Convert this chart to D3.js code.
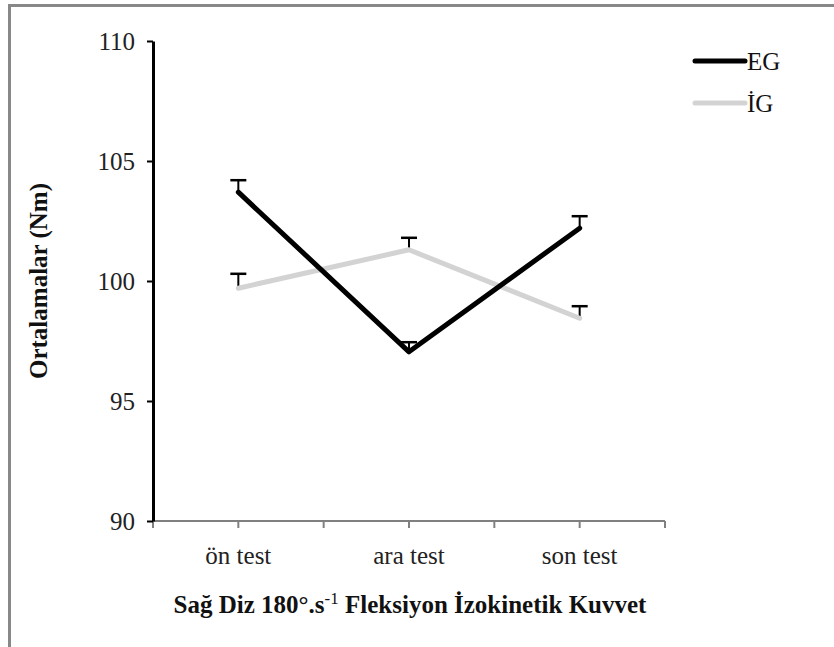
<!DOCTYPE html>
<html><head><meta charset="utf-8">
<script src="https://cdn.jsdelivr.net/npm/d3@7"></script>
<style>body{margin:0;background:#fff;} svg{display:block;}</style>
</head><body>
<svg id="c" width="834" height="647"></svg>
<script>
const categories = ["ön test", "ara test", "son test"];
const egValues = [103.7, 97.05, 102.2];
const egErrTop = [104.2, 97.45, 102.7];
const igValues = [99.7, 101.3, 98.45];
const igErrTop = [100.3, 101.8, 98.95];
const yTicks = [90, 95, 100, 105, 110];
const seriesNames = ["EG", "İG"];

(function () {
const FF = "Liberation Serif";
const FS = 25;
const svg = d3.select("#c");
// frame
svg.append("rect").attr("x", 9.5).attr("y", 5.5).attr("width", 840).attr("height", 660)
  .attr("fill", "none").attr("stroke", "#888").attr("stroke-width", 3);

const mLeft = 153, mRight = 665, mTop = 41, mBottom = 521;
const x = d3.scaleBand().domain(categories).range([mLeft, mRight]);
const y = d3.scaleLinear().domain([90, 110]).range([mBottom, mTop]);
const cx = c => x(c) + x.bandwidth() / 2;

// x axis
const xg = svg.append("g");
xg.append("line").attr("x1", mLeft).attr("x2", mRight).attr("y1", mBottom).attr("y2", mBottom)
  .attr("stroke", "#808080").attr("stroke-width", 2);
const xTickPos = [];
categories.forEach(c => { xTickPos.push(x(c)); xTickPos.push(cx(c)); });
xTickPos.push(mRight);
xTickPos.forEach(p => xg.append("line").attr("x1", p).attr("x2", p).attr("y1", mBottom).attr("y2", mBottom + 7)
  .attr("stroke", "#808080").attr("stroke-width", 2));
categories.forEach(c => xg.append("text").attr("x", cx(c)).attr("y", 564).attr("text-anchor", "middle")
  .style("font-family", FF).style("font-size", FS + "px").attr("fill", "#222").text(c));

// y axis
const yAxis = d3.axisLeft(y).tickValues(yTicks).tickSize(6).tickPadding(12).tickSizeOuter(0);
const yg = svg.append("g").attr("transform", `translate(${mLeft},0)`).call(yAxis);
yg.select(".domain").attr("stroke", "#000").attr("stroke-width", 3);
yg.selectAll(".tick line").attr("stroke", "#000").attr("stroke-width", 2);
yg.selectAll(".tick text").style("font-size", FS + "px").attr("fill", "#222").style("font-family", FF);

// titles
svg.append("text").attr("transform", `translate(47,${(mTop + mBottom) / 2}) rotate(-90)`)
  .attr("text-anchor", "middle").style("font-family", FF).style("font-size", FS + "px").attr("font-weight", "bold").attr("fill", "#111")
  .text("Ortalamalar (Nm)");
const xt = svg.append("text").attr("x", 410).attr("y", 613).attr("text-anchor", "middle")
  .style("font-family", FF).style("font-size", FS + "px").attr("font-weight", "bold").attr("fill", "#111");
xt.append("tspan").text("Sağ Diz 180°.s");
xt.append("tspan").attr("dy", -9).style("font-size", "17px").attr("font-weight", "normal").text("-1");
xt.append("tspan").attr("dy", 9).text(" Fleksiyon İzokinetik Kuvvet");

const line = d3.line().x((d, i) => cx(categories[i])).y(d => y(d));

function errBars(vals, tops) {
  vals.forEach((v, i) => {
    const px = cx(categories[i]);
    svg.append("line").attr("x1", px).attr("x2", px).attr("y1", y(v)).attr("y2", y(tops[i]))
      .attr("stroke", "#000").attr("stroke-width", 2);
    svg.append("line").attr("x1", px - 8).attr("x2", px + 8).attr("y1", y(tops[i])).attr("y2", y(tops[i]))
      .attr("stroke", "#000").attr("stroke-width", 2.5);
  });
}
errBars(igValues, igErrTop);
errBars(egValues, egErrTop);

svg.append("path").datum(igValues).attr("d", line).attr("fill", "none")
  .attr("stroke", "#d3d3d3").attr("stroke-width", 5).attr("stroke-linejoin", "round").attr("stroke-linecap", "round");
svg.append("path").datum(egValues).attr("d", line).attr("fill", "none")
  .attr("stroke", "#000").attr("stroke-width", 5).attr("stroke-linejoin", "round").attr("stroke-linecap", "round");

// legend
const legend = [{name: seriesNames[0], color: "#000", ly: 61}, {name: seriesNames[1], color: "#d3d3d3", ly: 103}];
legend.forEach(l => {
  svg.append("line").attr("x1", 695).attr("x2", 745).attr("y1", l.ly).attr("y2", l.ly)
    .attr("stroke", l.color).attr("stroke-width", 5).attr("stroke-linecap", "round");
  svg.append("text").attr("x", 747).attr("y", l.ly + 9).style("font-family", FF).style("font-size", FS + "px").attr("fill", "#111").text(l.name);
});
})();
</script>
</body></html>
